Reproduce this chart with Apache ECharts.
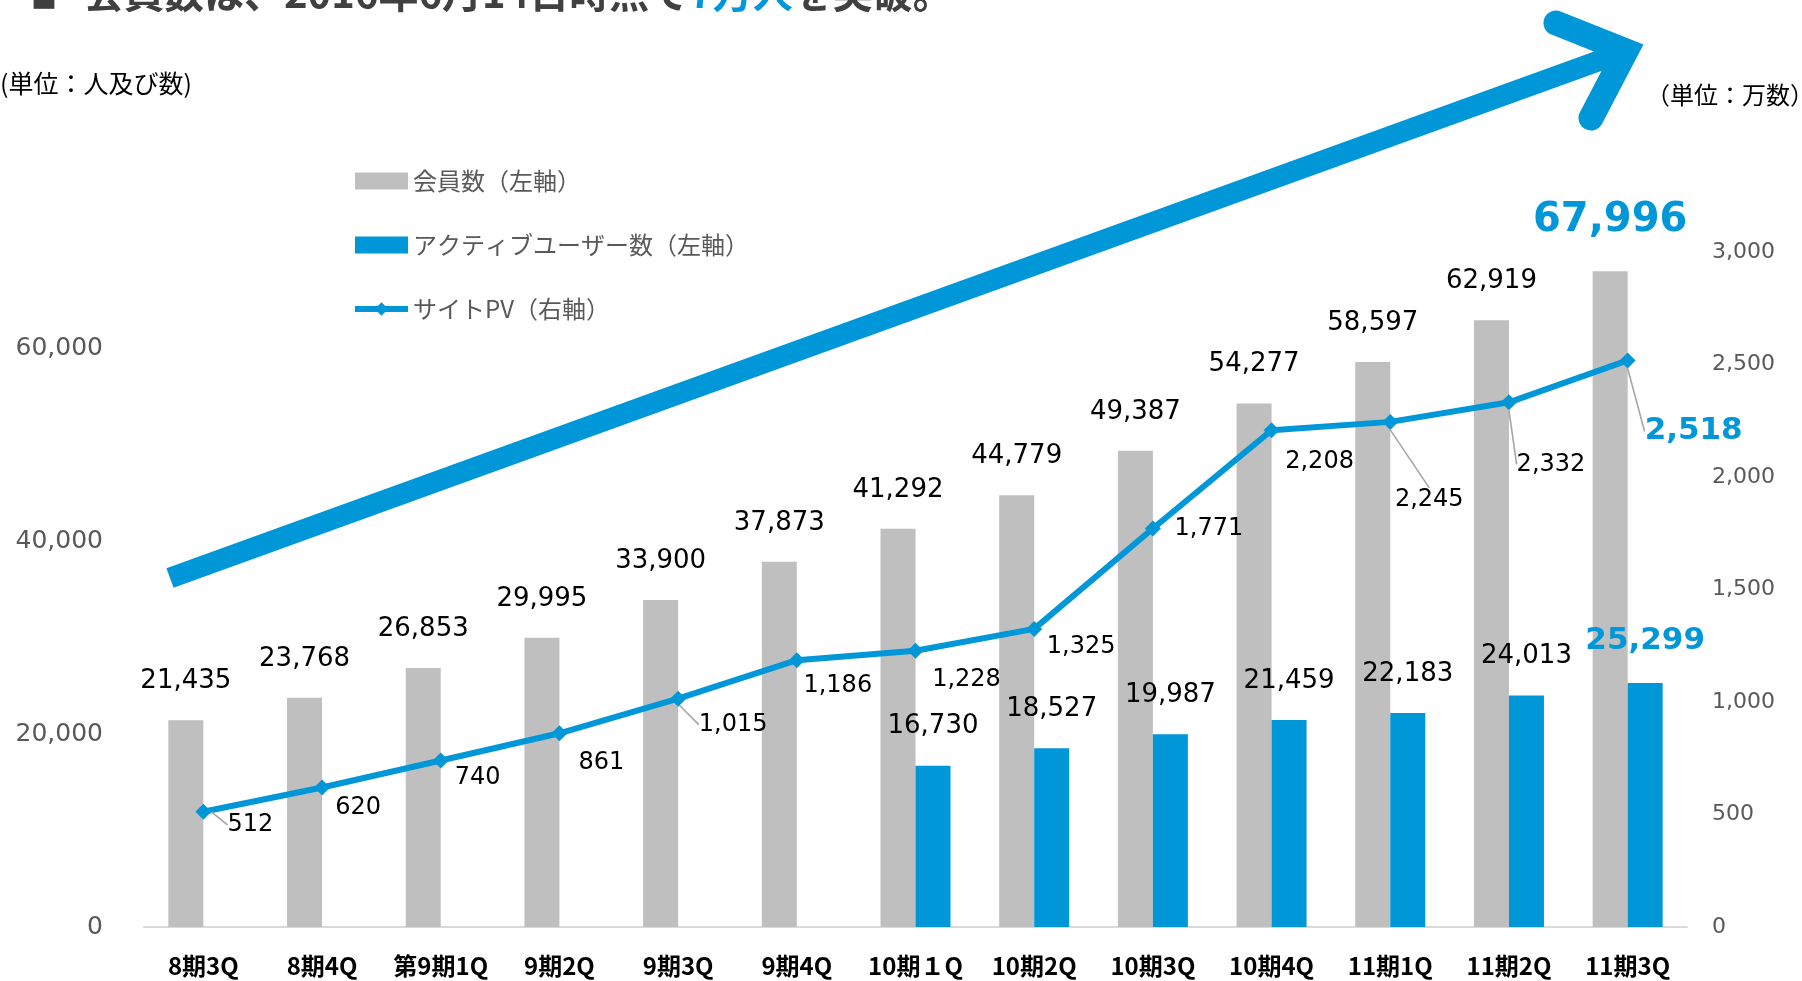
<!DOCTYPE html>
<html>
<head>
<meta charset="utf-8">
<script src="https://cdn.jsdelivr.net/npm/echarts@6/dist/echarts.min.js"></script>
<style>
html,body{margin:0;padding:0;background:#fff;}
#chart{width:1802px;height:981px;}
</style>
</head>
<body>
<div id="chart"></div>
<script>
// ---- data ----
const categories = ['8期3Q','8期4Q','第9期1Q','9期2Q','9期3Q','9期4Q','10期１Q','10期2Q','10期3Q','10期4Q','11期1Q','11期2Q','11期3Q'];
const members = [21435, 23768, 26853, 29995, 33900, 37873, 41292, 44779, 49387, 54277, 58597, 62919, 67996];
const activeUsers = [null, null, null, null, null, null, 16730, 18527, 19987, 21459, 22183, 24013, 25299];
const sitePV = [512, 620, 740, 861, 1015, 1186, 1228, 1325, 1771, 2208, 2245, 2332, 2518];
const seriesNames = ['会員数（左軸）', 'アクティブユーザー数（左軸）', 'サイトPV（右軸）'];
const titleParts = ['会員数は、2016年6月14日時点で', '7万人', 'を突破。'];
const leftUnit = '(単位：人及び数)';
const rightUnit = '（単位：万数）';

// ---- styles ----
const BLUE = '#0097d9';
const GRAY = '#bfbfbf';
const numFont = "'DejaVu Sans', Verdana, sans-serif";
const jpFont = "'Noto Sans CJK JP', 'Noto Sans', sans-serif";
const lastIdx = members.length - 1;
// label offsets (px) for the PV line labels, relative to the marker centre
const pvLabelOffsets = [[47,13],[36,20],[37,17],[42,29],[55,26],[41,26],[51,29],[47,18],[56,0],[48,32],[39,78],[42,62],[66,71]];
// which PV labels get a leader line
const pvLeader = [true,false,false,false,true,false,false,false,false,false,true,true,true];

const fmt = v => (v == null ? '' : Number(v).toLocaleString('en-US'));

const chart = echarts.init(document.getElementById('chart'), null, {renderer: 'canvas'});

const memberData = members.map((v, i) => i === lastIdx
  ? {value: v, label: {fontSize: 40, fontWeight: 'bold', color: BLUE, distance: 31}}
  : v);
const activeData = activeUsers.map((v, i) => i === lastIdx
  ? {value: v, label: {fontSize: 31, fontWeight: 'bold', color: BLUE, distance: 27}}
  : v);
const pvData = sitePV.map((v, i) => {
  const item = {value: v, labelLine: {show: pvLeader[i]}};
  if (i === lastIdx) item.label = {fontSize: 31, fontWeight: 'bold', color: BLUE};
  return item;
});

// arrow geometry (decoration)
const arrowStart = [170, 578];
const arrowVertex = [1626, 51];
const armUp = [1556, 23];
const armDown = [1591, 118];

const option = {
  animation: false,
  backgroundColor: '#fff',
  grid: {left: 144, right: 115, top: 252, bottom: 54, containLabel: false},
  legend: {
    orient: 'vertical',
    left: 347,
    top: 164,
    itemWidth: 53,
    itemHeight: 17,
    itemGap: 40,
    textStyle: {fontFamily: jpFont, fontSize: 24, color: '#595959'},
    data: [
      {name: seriesNames[0], icon: 'rect'},
      {name: seriesNames[1], icon: 'rect'},
      {name: seriesNames[2], lineStyle: {width: 6}}
    ]
  },
  xAxis: {
    type: 'category',
    data: categories,
    axisLine: {lineStyle: {color: '#d9d9d9', width: 2}},
    axisTick: {show: false},
    axisLabel: {fontFamily: jpFont, fontSize: 24, fontWeight: 'bold', color: '#000', margin: 27, interval: 0}
  },
  yAxis: [
    {
      type: 'value', min: 0, max: 70000, interval: 20000,
      splitLine: {show: false},
      axisLine: {show: false}, axisTick: {show: false},
      axisLabel: {fontFamily: numFont, fontSize: 25, color: '#595959', margin: 41, showMaxLabel: false, formatter: fmt}
    },
    {
      type: 'value', min: 0, max: 3000, interval: 500,
      splitLine: {show: false},
      axisLine: {show: false}, axisTick: {show: false},
      axisLabel: {fontFamily: numFont, fontSize: 22, color: '#595959', margin: 25, formatter: fmt}
    }
  ],
  series: [
    {
      name: seriesNames[0], type: 'bar', yAxisIndex: 0,
      data: memberData, barWidth: 35, barGap: '0%',
      itemStyle: {color: GRAY},
      label: {show: true, position: 'top', distance: 26, fontFamily: numFont, fontSize: 26, color: '#000', formatter: p => fmt(p.value)},
      z: 2
    },
    {
      name: seriesNames[1], type: 'bar', yAxisIndex: 0,
      data: activeData, barWidth: 35, barGap: '0%',
      itemStyle: {color: BLUE},
      label: {show: true, position: 'top', distance: 26, fontFamily: numFont, fontSize: 26, color: '#000', formatter: p => fmt(p.value)},
      z: 2
    },
    {
      name: seriesNames[2], type: 'line', yAxisIndex: 1,
      data: pvData,
      symbol: 'diamond', symbolSize: 16,
      lineStyle: {color: BLUE, width: 6},
      itemStyle: {color: BLUE},
      label: {show: true, position: 'inside', fontFamily: numFont, fontSize: 24, color: '#000', formatter: p => fmt(p.value)},
      labelLine: {show: false, lineStyle: {color: '#a6a6a6', width: 1.6}},
      labelLayout: function (params) {
        const o = pvLabelOffsets[params.dataIndex] || [0, 0];
        return {dx: o[0], dy: o[1]};
      },
      z: 5
    }
  ],
  graphic: [
    {
      type: 'line', z: 0, silent: true,
      shape: {x1: arrowStart[0], y1: arrowStart[1], x2: arrowVertex[0], y2: arrowVertex[1]},
      style: {stroke: BLUE, lineWidth: 21, lineCap: 'butt'}
    },
    {
      type: 'polyline', z: 0, silent: true,
      shape: {points: [armUp, arrowVertex, armDown]},
      style: {stroke: BLUE, lineWidth: 25, lineCap: 'round', lineJoin: 'miter', fill: null}
    },
    {
      type: 'text', x: 0, y: 83, silent: true,
      style: {text: leftUnit, fontFamily: jpFont, fontSize: 25, fill: '#000', verticalAlign: 'middle'}
    },
    {
      type: 'text', x: 1814, y: 95, silent: true,
      style: {text: rightUnit, fontFamily: jpFont, fontSize: 24, fill: '#000', align: 'right', verticalAlign: 'middle'}
    },
    {
      type: 'text', x: 31, y: -2, silent: true,
      style: {text: '■', fontFamily: jpFont, fontSize: 26, fill: '#404040', verticalAlign: 'middle'}
    },
    {
      type: 'text', x: 84, y: -7, silent: true,
      style: {
        text: '{t|' + titleParts[0] + '}{b|' + titleParts[1] + '}{t|' + titleParts[2] + '}',
        verticalAlign: 'middle',
        rich: {
          t: {fontFamily: jpFont, fontSize: 40, fill: '#404040', fontWeight: 'bold'},
          b: {fontFamily: jpFont, fontSize: 40, fill: BLUE, fontWeight: 'bold'}
        }
      }
    }
  ]
};
chart.setOption(option);
</script>
</body>
</html>
